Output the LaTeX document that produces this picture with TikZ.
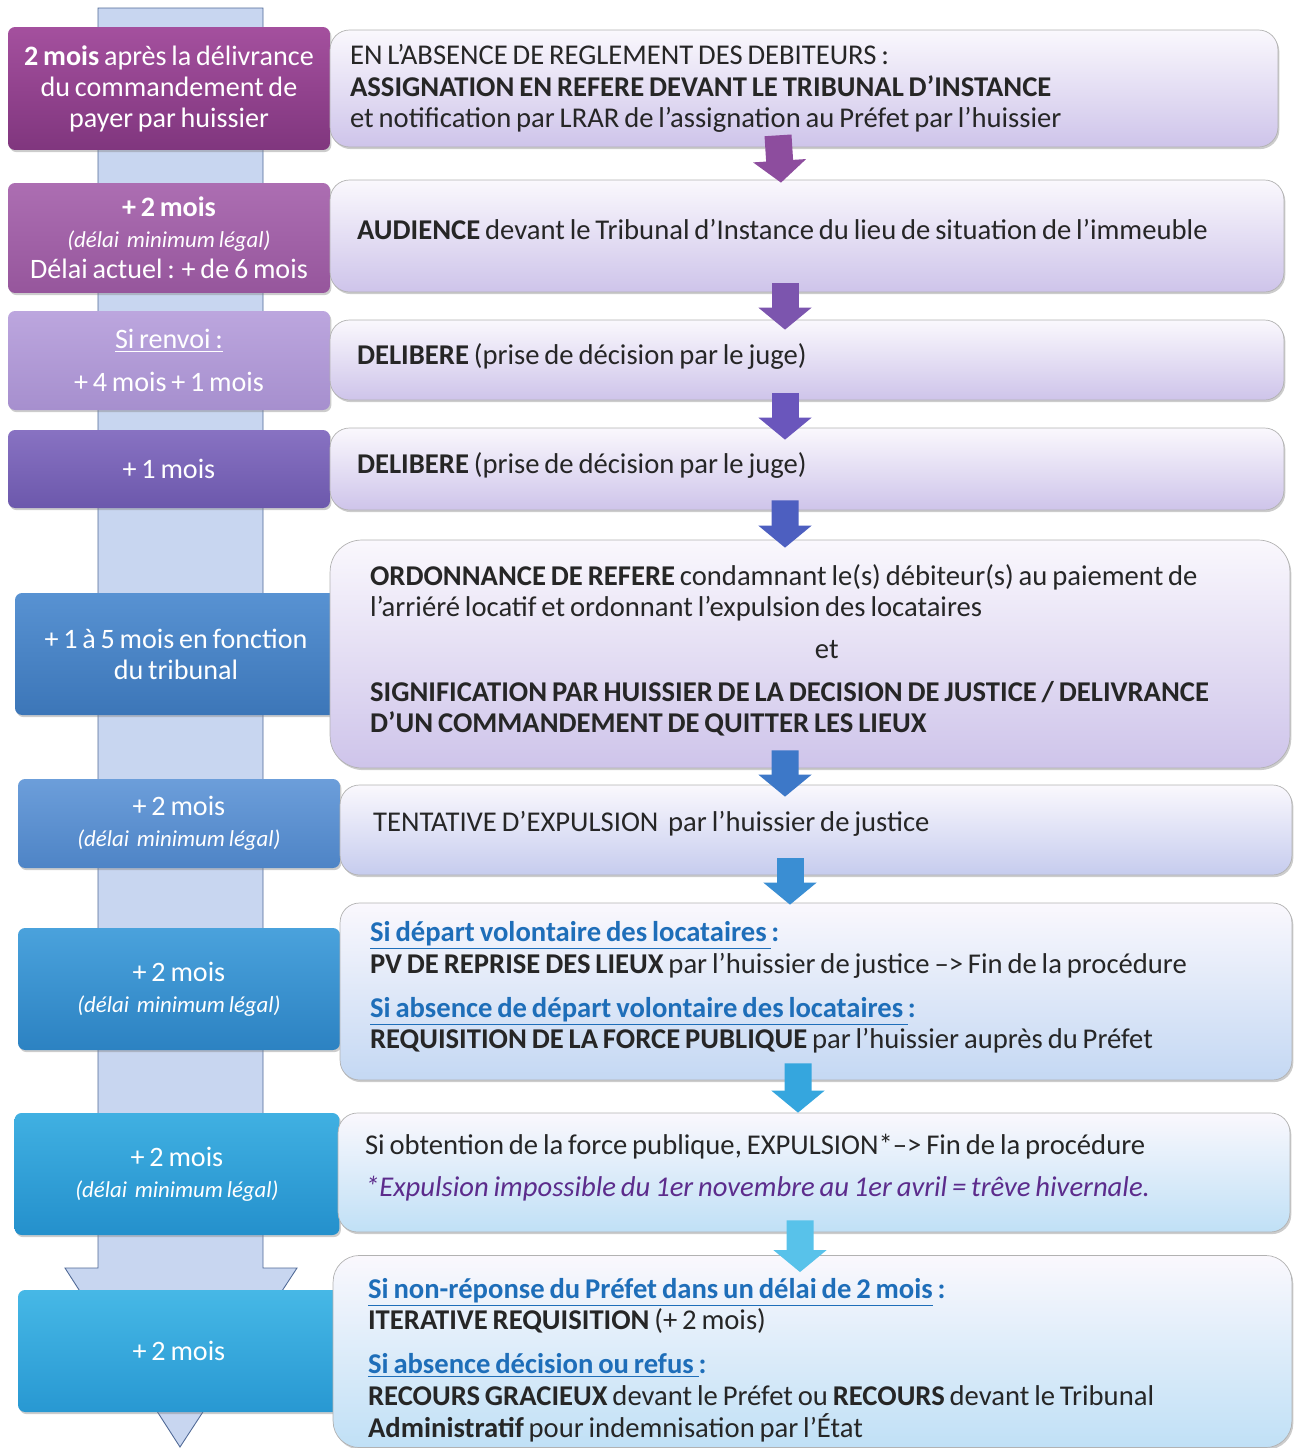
\documentclass[tikz,border=0pt]{standalone}
\usepackage{fontspec}
\setmainfont{Carlito}[WordSpace=0.75]
\usepackage{tikz}
\usetikzlibrary{calc, arrows.meta, shadows}

\definecolor{shaft}{RGB}{200,214,240}
\definecolor{shaftline}{RGB}{80,105,150}
\definecolor{condblue}{RGB}{30,110,185}
\definecolor{notepurple}{RGB}{92,44,140}
\definecolor{rtop}{RGB}{250,248,253}
\definecolor{rlav}{RGB}{206,196,234}
\definecolor{rperi}{RGB}{198,204,238}
\definecolor{rsky}{RGB}{196,216,243}
\definecolor{rcyan}{RGB}{192,224,246}
% left boxes, top and bottom
\definecolor{lat}{RGB}{164,80,158}   \definecolor{lab}{RGB}{128,54,126}
\definecolor{lbt}{RGB}{172,110,178}  \definecolor{lbb}{RGB}{150,86,156}
\definecolor{lct}{RGB}{188,166,222}  \definecolor{lcb}{RGB}{166,143,206}
\definecolor{ldt}{RGB}{136,114,194}  \definecolor{ldb}{RGB}{108,88,172}
\definecolor{let}{RGB}{88,146,210}   \definecolor{leb}{RGB}{60,118,184}
\definecolor{lft}{RGB}{108,158,218}  \definecolor{lfb}{RGB}{78,132,198}
\definecolor{lgt}{RGB}{74,162,220}   \definecolor{lgb}{RGB}{44,130,194}
\definecolor{lht}{RGB}{64,176,226}   \definecolor{lhb}{RGB}{36,144,204}
\definecolor{lit}{RGB}{70,184,230}   \definecolor{lib}{RGB}{40,152,210}
% step arrows
\definecolor{aa}{RGB}{141,77,158}
\definecolor{ab}{RGB}{124,85,174}
\definecolor{ac}{RGB}{106,86,188}
\definecolor{ad}{RGB}{77,95,192}
\definecolor{ae}{RGB}{61,120,200}
\definecolor{af}{RGB}{58,142,211}
\definecolor{ag}{RGB}{53,166,222}
\definecolor{ah}{RGB}{88,194,234}

\newcommand{\cond}[1]{{\color{condblue}\bfseries\underline{#1}:}}
\newcommand{\delai}{{\fontsize{13}{15}\selectfont\itshape(délai\ \ minimum légal)}}

\begin{document}
\begin{tikzpicture}[x=0.02cm, y=-0.02cm,
    lbox/.style 2 args={rounded corners=4pt, minimum width=6.44cm, text=white,
      align=center, top color=#1, bottom color=#2,
      drop shadow={opacity=0.4, shadow xshift=0.8pt, shadow yshift=-1.2pt},
      font=\fontsize{16}{17.6}\selectfont},
    rbox/.style={draw=black!30, rounded corners=11pt, align=flush left, text=black!85,
      top color=rtop, bottom color=#1,
      drop shadow={opacity=0.4, shadow xshift=0.8pt, shadow yshift=-1.2pt},
      font=\fontsize{16.3}{18}\selectfont},
    rbox/.default=rlav,
    dnarr/.style={line width=0.54cm, draw=#1, -{Triangle[width=1.04cm,length=0.44cm]}}]
  \useasboundingbox (0,0) rectangle (1294,1448);
  % time arrow behind the left column
  \filldraw[fill=shaft, draw=shaftline, line width=0.5pt]
    (98,8) -- (263,8) -- (263,1268) -- (297,1268) -- (180,1447)
    -- (65,1268) -- (98,1268) -- cycle;
  % left column: delays
  \node[lbox={lat}{lab}, minimum height=2.46cm] (l1) at (169,88.5)
    {\textbf{2 mois} après la délivrance\\du commandement de\\payer par huissier};
  \node[lbox={lbt}{lbb}, minimum height=2.2cm] (l2) at (169,238)
    {\textbf{+ 2 mois}\\\delai\\Délai actuel : + de 6 mois};
  \node[lbox={lct}{lcb}, minimum height=1.98cm] (l3) at (169,360.5)
    {\underline{Si renvoi :}\\[7pt]+ 4 mois + 1 mois};
  \node[lbox={ldt}{ldb}, minimum height=1.56cm] (l4) at (169,469) {+ 1 mois};
  \node[lbox={let}{leb}, minimum height=2.44cm] (l5) at (176,654)
    {+ 1 à 5 mois en fonction\\du tribunal};
  \node[lbox={lft}{lfb}, minimum height=1.78cm] (l6) at (179,823.5) {+ 2 mois\\\delai};
  \node[lbox={lgt}{lgb}, minimum height=2.44cm] (l7) at (179,989) {+ 2 mois\\\delai};
  \node[lbox={lht}{lhb}, minimum height=2.44cm, minimum width=6.5cm] (l8) at (177,1174) {+ 2 mois\\\delai};
  \node[lbox={lit}{lib}, minimum height=2.44cm] (l9) at (179,1351) {+ 2 mois};
  % right column: steps
  \node[rbox, text width=18.16cm, inner xsep=0.4cm, minimum height=2.34cm] (r1) at (804,88.5)
    {EN L’ABSENCE DE REGLEMENT DES DEBITEURS :\\
     \textbf{ASSIGNATION EN REFERE DEVANT LE TRIBUNAL D’INSTANCE}\\
     et notification par LRAR de l’assignation au Préfet par l’huissier};
  \node[rbox, text width=18cm, inner xsep=0.54cm, minimum height=2.24cm, text depth=0.28cm] (r2) at (807,236)
    {\textbf{AUDIENCE} devant le Tribunal d’Instance du lieu de situation de l’immeuble};
  \node[rbox, text width=18cm, inner xsep=0.54cm, minimum height=1.6cm, text depth=0.25cm] (r3) at (807,360)
    {\textbf{DELIBERE} (prise de décision par le juge)};
  \node[rbox, text width=18cm, inner xsep=0.54cm, minimum height=1.64cm, text depth=0.25cm] (r4) at (807,469)
    {\textbf{DELIBERE} (prise de décision par le juge)};
  \node[rbox, rounded corners=18pt, text width=17.6cm, inner xsep=0.8cm,
    minimum height=4.56cm] (r5) at (810,654)
    {\textbf{ORDONNANCE DE REFERE} condamnant le(s) débiteur(s) au paiement de\\
     l’arriéré locatif et ordonnant l’expulsion des locataires\\[6pt]
     \hspace*{8.9cm}et\\[6pt]
     \textbf{SIGNIFICATION PAR HUISSIER DE LA DECISION DE JUSTICE / DELIVRANCE}\\
     \textbf{D’UN COMMANDEMENT DE QUITTER LES LIEUX}\rule[-0.22cm]{0pt}{0pt}};
  \node[rbox=rperi, text width=17.72cm, inner xsep=0.66cm, minimum height=1.8cm, text depth=0.34cm] (r6) at (816,830)
    {TENTATIVE D’EXPULSION\ \ par l’huissier de justice};
  \node[rbox=rsky, text width=17.84cm, inner xsep=0.6cm, minimum height=3.54cm] (r7) at (816,991.5)
    {\cond{Si départ volontaire des locataires\ }\\
     \textbf{PV DE REPRISE DES LIEUX} par l’huissier de justice –> Fin de la procédure\\[7pt]
     \cond{Si absence de départ volontaire des locataires\ }\\
     \textbf{REQUISITION DE LA FORCE PUBLIQUE} par l’huissier auprès du Préfet\rule[-0.26cm]{0pt}{0pt}};
  \node[rbox=rcyan, text width=17.96cm, inner xsep=0.54cm, minimum height=2.38cm] (r8) at (814,1172.5)
    {Si obtention de la force publique, EXPULSION*–> Fin de la procédure\\[6pt]
     {\color{notepurple}\itshape *Expulsion impossible du 1er novembre au 1er avril = trêve hivernale.}\rule[-0.3cm]{0pt}{0pt}};
  \node[rbox=rcyan, rounded corners=15pt, text width=17.78cm, inner xsep=0.7cm,
    minimum height=3.74cm] (r9) at (812.5,1351.5)
    {\rule{0pt}{0.74cm}{\color{condblue}\bfseries\underline{Si non-réponse du Préfet dans un délai de 2 mois} :}\\
     \textbf{ITERATIVE REQUISITION} (+ 2 mois)\\[7pt]
     \cond{Si absence décision ou refus\ }\\
     \textbf{RECOURS GRACIEUX} devant le Préfet ou \textbf{RECOURS} devant le Tribunal\\
     \textbf{Administratif} pour indemnisation par l’État};
  % arrows between steps
  \draw[dnarr=aa] ([xshift=-0.52cm,yshift=0.24cm]r1.south) -- ([xshift=-0.52cm,yshift=-0.06cm]r2.north);
  \draw[dnarr=ab] ([xshift=-0.44cm,yshift=0.18cm]r2.south) -- ([xshift=-0.44cm,yshift=-0.2cm]r3.north);
  \draw[dnarr=ac] ([xshift=-0.44cm,yshift=0.14cm]r3.south) -- ([xshift=-0.44cm,yshift=-0.24cm]r4.north);
  \draw[dnarr=ad] ([xshift=-0.44cm,yshift=0.2cm]r4.south) -- ([xshift=-0.5cm,yshift=-0.16cm]r5.north);
  \draw[dnarr=ae] ([xshift=-0.5cm,yshift=0.36cm]r5.south) -- ([xshift=-0.62cm,yshift=-0.24cm]r6.north);
  \draw[dnarr=af] ([xshift=-0.52cm,yshift=0.34cm]r6.south) -- ([xshift=-0.52cm,yshift=-0.04cm]r7.north);
  \draw[dnarr=ag] ([xshift=-0.36cm,yshift=0.34cm]r7.south) -- ([xshift=-0.32cm]r8.north);
  \draw[dnarr=ah] ([xshift=-0.28cm,yshift=0.24cm]r8.south) -- ([xshift=-0.25cm,yshift=-0.34cm]r9.north);
\end{tikzpicture}
\end{document}
